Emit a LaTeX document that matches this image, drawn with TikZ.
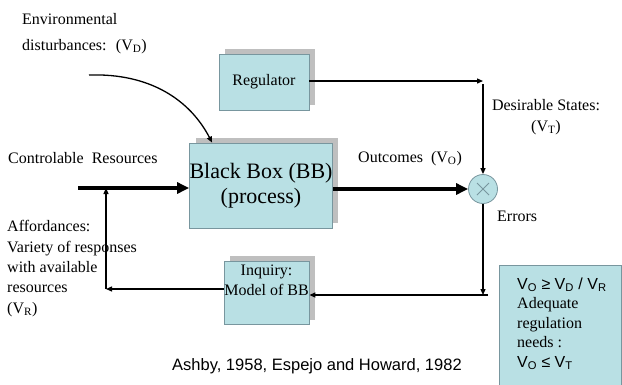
\documentclass[tikz,border=0pt]{standalone}
\usepackage{fontspec}
\setmainfont{Liberation Serif}
\setsansfont{Liberation Sans}
\usetikzlibrary{positioning, shapes.geometric, shadows, arrows.meta}
\definecolor{boxfill}{RGB}{185,224,228}
\definecolor{boxline}{RGB}{120,150,158}
\tikzstyle{block} = [rectangle, fill=boxfill, draw=boxline, line width=0.8pt, text centered, align=center, drop shadow={shadow xshift=6pt, shadow yshift=5pt, fill=black!25, opacity=1}]
\tikzstyle{arrow} = [line width=1.3pt, -{Triangle[length=6pt,width=5pt]}]
\tikzstyle{bigarrow} = [line width=4pt, -{Triangle[length=12pt,width=11pt]}]
\tikzstyle{txt} = [inner sep=0pt, anchor=base west, align=left, font=\fontsize{16}{20.3}\selectfont]

\begin{document}
\begin{tikzpicture}[x=1pt, y=-1pt]
    \useasboundingbox (0,0) rectangle (622,384);
    %boxes
    \node (reg) [block, minimum width=90pt, minimum height=56pt, font=\fontsize{16}{20}\selectfont] at (264,82) {Regulator};
    \node (bb) [block, minimum width=142pt, minimum height=85pt, inner xsep=0pt, font=\fontsize{22}{25}\selectfont] at (261,185.5) {Black Box (BB)\\(process)};
    \node (inq) [block, minimum width=85pt, minimum height=62pt, inner xsep=0pt, font=\fontsize{16}{20}\selectfont] at (266.5,293) {Inquiry:\\Model of BB\\\strut};
    \node (cmp) [circle, fill=boxfill, draw=boxline, line width=0.8pt, minimum size=29pt, inner sep=0pt] at (483,189) {};
    \draw [boxline, line width=0.8pt] ([shift={(-6,-6)}]cmp.center) -- ([shift={(6,6)}]cmp.center);
    \draw [boxline, line width=0.8pt] ([shift={(-6,6)}]cmp.center) -- ([shift={(6,-6)}]cmp.center);
    \node (cond) [rectangle, fill=boxfill, draw=boxline, line width=0.8pt, minimum width=122pt, minimum height=125pt, anchor=north west] at (499,265) {};

    %labels (base = last line)
    \node (env) [txt, font=\fontsize{16}{26}\selectfont] at (22,50) {Environmental\\disturbances: \ (V\textsubscript{D})};
    \node (ctrl) [txt] at (8,163) {Controlable \ Resources};
    \node (aff) [txt] at (7,313) {Affordances:\\Variety of responses\\with available\\resources\\(V\textsubscript{R})};
    \node (outc) [txt] at (358,162) {Outcomes \ (V\textsubscript{O})};
    \node (des) [txt, anchor=base, align=center, font=\fontsize{16}{21}\selectfont] at (546,131) {Desirable States:\\(V\textsubscript{T})};
    \node (err) [txt] at (497,221) {Errors};
    \node (rule) [txt, font=\fontsize{16}{19.5}\selectfont] at (517,367) {{\sffamily V\textsubscript{O} ≥ V\textsubscript{D} / V\textsubscript{R}}\\Adequate\\regulation\\needs :\\{\sffamily V\textsubscript{O} ≤ V\textsubscript{T}}};
    \node (cite) [txt, font=\sffamily\fontsize{16.5}{20}\selectfont] at (172,370) {Ashby, 1958, Espejo and Howard, 1982};

    %free ends and corners
    \coordinate (envsrc) at (89,75);
    \coordinate (ctrlsrc) at (78,188);
    \coordinate (dscorner) at (483,81);
    \coordinate (errcorner) at (483,295);
    \coordinate (affcorner) at (106,289);

    %connectors
    \draw [arrow] (envsrc) .. controls (150,73) and (190,100) .. ([xshift=23pt]bb.north west);
    \draw [bigarrow] (ctrlsrc) -- (bb.west |- ctrlsrc);
    \draw [bigarrow] (bb.east |- cmp) -- (cmp.west);
    \draw [arrow] (reg.east |- dscorner) -- (dscorner);
    \draw [arrow] ([yshift=-3pt]dscorner) -- (cmp.north);
    \draw [arrow] (cmp.south) -- (errcorner);
    \draw [arrow] ([xshift=5pt]errcorner) -- (inq.east |- errcorner);
    \draw [arrow] (inq.west |- affcorner) -- (affcorner);
    \draw [arrow] (affcorner) -- (affcorner |- ctrlsrc);
\end{tikzpicture}
\end{document}
